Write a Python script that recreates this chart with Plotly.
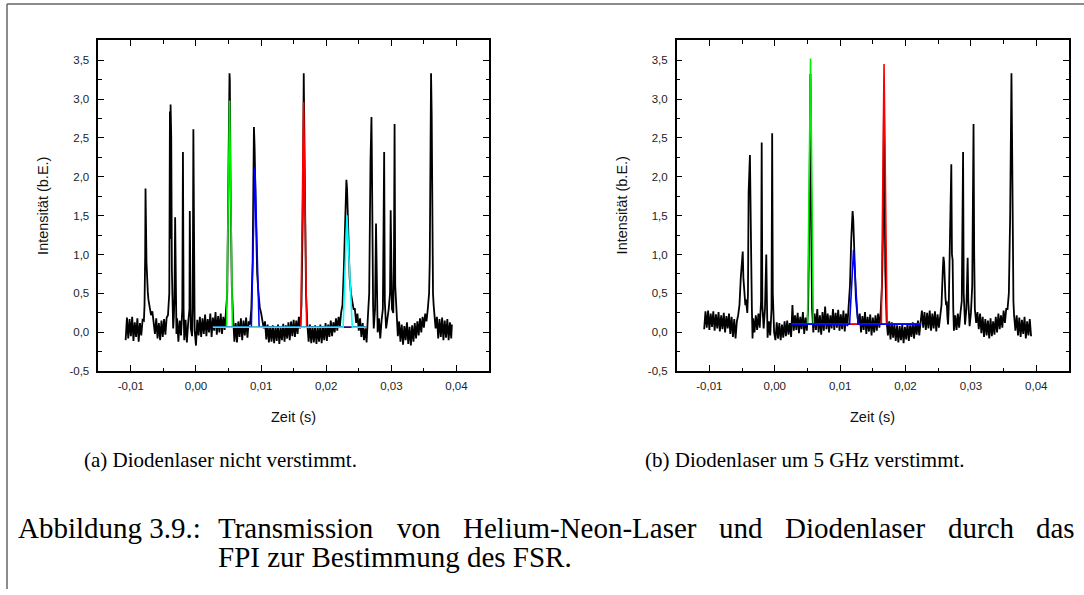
import plotly.graph_objects as go

W, H = 1084, 595

# ---------------- data: panel (a) - diode laser not detuned ----------------
scan_a = [
    (-0.0108, -0.10), (-0.0106, 0.19), (-0.0104, -0.08), (-0.0102, 0.17), (-0.0100, -0.05), (-0.0098, 0.20),
    (-0.0096, -0.11), (-0.0094, 0.13), (-0.0092, -0.06), (-0.0090, 0.18), (-0.0088, -0.12), (-0.0086, 0.12),
    (-0.0084, -0.04), (-0.0082, 0.16), (-0.0080, 0.15),
    (-0.0079, 0.35), (-0.0078, 1.00), (-0.00775, 1.85), (-0.0077, 1.55), (-0.0076, 0.90), (-0.0075, 0.56),
    (-0.0074, 0.52), (-0.0073, 0.42), (-0.0071, 0.33), (-0.0069, 0.22), (-0.0067, 0.27), (-0.0065, 0.14),
    (-0.0063, -0.02), (-0.0061, 0.18), (-0.0059, -0.08), (-0.0057, 0.12), (-0.0055, -0.10), (-0.0053, 0.15),
    (-0.0051, -0.06), (-0.0049, 0.17), (-0.0047, -0.03), (-0.0045, 0.19), (-0.0043, 0.22), (-0.0041, 0.50),
    (-0.0040, 2.84), (-0.00395, 1.20), (-0.0039, 2.93), (-0.0038, 2.52), (-0.0037, 0.80), (-0.0036, 0.35),
    (-0.0035, 0.05), (-0.0034, 0.20), (-0.0033, 0.45), (-0.0032, 1.48), (-0.0031, 0.40), (-0.0030, -0.02),
    (-0.0029, 0.18), (-0.0027, -0.12), (-0.0025, 0.15), (-0.0023, -0.04), (-0.0021, 0.30), (-0.0020, 2.32),
    (-0.0019, 0.30), (-0.0018, -0.10), (-0.0016, 0.16), (-0.0014, -0.13), (-0.0012, 0.12), (-0.0010, 0.30),
    (-0.00095, 1.56), (-0.0009, 0.50), (-0.0008, 0.05), (-0.0006, -0.05), (-0.0005, 0.30), (-0.0004, 2.61),
    (-0.0003, 0.60), (-0.0002, 0.02), (0.0000, -0.17), (0.0002, 0.16), (0.0004, -0.04), (0.0006, 0.20),
    (0.0008, -0.06), (0.0010, 0.18), (0.0012, -0.02), (0.0014, 0.23), (0.0016, -0.05), (0.0018, 0.17),
    (0.0020, 0.00), (0.0022, 0.24), (0.0024, -0.06), (0.0026, 0.19), (0.0028, 0.02), (0.0030, 0.26),
    (0.0032, -0.03), (0.0034, 0.21), (0.0036, 0.00), (0.0038, 0.24), (0.0040, -0.02), (0.0042, 0.20),
    (0.0044, 0.03), (0.0046, 0.25),
    (0.0048, 0.50), (0.0050, 2.20), (0.00515, 3.33), (0.0052, 3.24), (0.0053, 2.00), (0.0055, 0.60),
    (0.0057, 0.20), (0.0059, -0.12), (0.0061, 0.12), (0.0063, -0.13), (0.0065, 0.14), (0.0067, -0.06),
    (0.0069, 0.18), (0.0071, -0.10), (0.0073, 0.15), (0.0075, -0.04), (0.0077, 0.19), (0.0079, -0.07),
    (0.0081, 0.14), (0.0083, 0.10), (0.0085, 0.30),
    (0.0087, 0.90), (0.0089, 2.64), (0.0090, 2.40), (0.0092, 1.50), (0.0094, 0.75), (0.0096, 0.50),
    (0.0098, 0.32), (0.0100, 0.25), (0.0102, 0.16), (0.0104, 0.05), (0.0106, 0.14), (0.0108, -0.09),
    (0.0110, 0.10), (0.0112, -0.13), (0.0114, 0.08), (0.0116, -0.12), (0.0118, 0.09), (0.0120, -0.14),
    (0.0122, 0.07), (0.0124, -0.11), (0.0126, 0.10), (0.0128, -0.15), (0.0130, 0.06), (0.0132, -0.10),
    (0.0134, 0.11), (0.0136, -0.12), (0.0138, 0.09), (0.0140, -0.08), (0.0142, 0.13), (0.0144, -0.10),
    (0.0146, 0.14), (0.0148, -0.05), (0.0150, 0.16), (0.0152, -0.06), (0.0154, 0.15), (0.0156, -0.02),
    (0.0158, 0.20), (0.0160, 0.05), (0.0162, 0.35),
    (0.0164, 1.50), (0.01655, 3.33), (0.0167, 2.20), (0.0169, 0.50), (0.0171, 0.10), (0.0173, -0.12),
    (0.0175, 0.10), (0.0177, -0.14), (0.0179, 0.08), (0.0181, -0.13), (0.0183, 0.09), (0.0185, -0.15),
    (0.0187, 0.06), (0.0189, -0.12), (0.0191, 0.10), (0.0193, -0.14), (0.0195, 0.07), (0.0197, -0.10),
    (0.0199, 0.12), (0.0201, -0.11), (0.0203, 0.10), (0.0205, -0.06), (0.0207, 0.15), (0.0209, -0.05),
    (0.0211, 0.13), (0.0213, 0.00), (0.0215, 0.18), (0.0217, 0.02), (0.0219, 0.20), (0.0221, 0.08),
    (0.0223, 0.26), (0.0225, 0.35),
    (0.0227, 0.80), (0.0229, 1.50), (0.0231, 1.96), (0.0232, 1.85), (0.0234, 1.10), (0.0236, 0.70),
    (0.0238, 0.50), (0.0240, 0.40), (0.0242, 0.30), (0.0244, 0.30), (0.0246, 0.12), (0.0248, 0.24),
    (0.0250, 0.02), (0.0252, 0.18), (0.0254, -0.06), (0.0256, 0.12), (0.0258, -0.10), (0.0260, 0.05),
    (0.0262, -0.13), (0.0264, 0.20), (0.0266, 0.50),
    (0.0268, 2.20), (0.02695, 2.77), (0.0270, 2.37), (0.0271, 1.00), (0.0272, 0.35), (0.0273, 0.05),
    (0.0275, 0.30), (0.02765, 1.40), (0.0278, 0.35), (0.0279, 0.00), (0.0281, 0.18), (0.0283, -0.08),
    (0.0285, 0.15), (0.0287, 0.30), (0.0289, 2.32), (0.0290, 0.40), (0.0292, 0.05), (0.0294, 0.15),
    (0.0296, 0.30), (0.0298, 0.50), (0.0299, 1.57), (0.0301, 0.30), (0.0303, 0.25), (0.0304, 0.90),
    (0.0305, 2.68), (0.0306, 0.60), (0.0308, 0.16), (0.0310, -0.05),
    (0.0312, 0.14), (0.0314, -0.12), (0.0316, 0.10), (0.0318, -0.16), (0.0320, 0.08), (0.0322, -0.10),
    (0.0324, 0.13), (0.0326, -0.15), (0.0328, 0.07), (0.0330, -0.17), (0.0332, 0.09), (0.0334, -0.12),
    (0.0336, 0.12), (0.0338, -0.08), (0.0340, 0.14), (0.0342, -0.04), (0.0344, 0.18), (0.0346, 0.00),
    (0.0348, 0.20), (0.0350, 0.06), (0.0352, 0.24), (0.0354, 0.14), (0.0356, 0.30), (0.0358, 0.50),
    (0.0359, 0.90), (0.0360, 2.50), (0.0361, 3.33), (0.0362, 2.80), (0.0363, 1.00), (0.0364, 0.50),
    (0.0365, 0.35), (0.0366, 0.22), (0.0368, 0.05), (0.0370, 0.20), (0.0372, -0.08), (0.0374, 0.17),
    (0.0376, -0.06), (0.0378, 0.19), (0.0380, -0.10), (0.0382, 0.15), (0.0384, -0.07), (0.0386, 0.17),
    (0.0388, -0.10), (0.0390, 0.13), (0.0392, -0.08), (0.0393, 0.10),
]

# fitted peaks, panel (a)
green_t_a = [0.0026, 0.0047, 0.00516, 0.0056, 0.0261]
green_y_a = [0.065, 0.065, 2.98, 0.065, 0.065]
red_t_a = [0.0026, 0.0161, 0.01653, 0.0170, 0.0261]
red_y_a = [0.065, 0.065, 2.96, 0.065, 0.065]
blue_t_a = [0.0026, 0.0085, 0.00905, 0.0097, 0.0261]
blue_y_a = [0.065, 0.065, 2.13, 0.065, 0.065]
cyan_t_a = [0.0026, 0.0226, 0.02318, 0.0240, 0.0261]
cyan_y_a = [0.065, 0.065, 1.505, 0.065, 0.065]

# ---------------- data: panel (b) - diode laser detuned by 5 GHz ----------------
scan_b = [
    (-0.0108, 0.04), (-0.0106, 0.27), (-0.0104, 0.06), (-0.0102, 0.28), (-0.0100, 0.03), (-0.0098, 0.24),
    (-0.0096, 0.07), (-0.0094, 0.27), (-0.0092, 0.02), (-0.0090, 0.23), (-0.0088, 0.05), (-0.0086, 0.26),
    (-0.0084, 0.01), (-0.0082, 0.22), (-0.0080, 0.04), (-0.0078, 0.25), (-0.0076, 0.00), (-0.0074, 0.21),
    (-0.0072, 0.05), (-0.0070, 0.24), (-0.0068, -0.02), (-0.0066, 0.20), (-0.0064, -0.06), (-0.0062, 0.17),
    (-0.0060, -0.08), (-0.0058, 0.14), (-0.0056, 0.22), (-0.0054, 0.35), (-0.0052, 0.70), (-0.0050, 0.97),
    (-0.0049, 1.04), (-0.0048, 0.70), (-0.0047, 0.55), (-0.0046, 0.45), (-0.0045, 0.35), (-0.0044, 0.42),
    (-0.0043, 0.30), (-0.0042, 0.25), (-0.0041, 0.50), (-0.0040, 1.80), (-0.0038, 2.28), (-0.0037, 1.20),
    (-0.0036, 0.92), (-0.0035, 0.30), (-0.0034, -0.08), (-0.0033, 0.18), (-0.0031, 0.00), (-0.0029, 0.22),
    (-0.0027, 0.03), (-0.0025, 0.24), (-0.0023, 0.06), (-0.0021, 0.40), (-0.0020, 2.44), (-0.0019, 0.35),
    (-0.0017, 0.05), (-0.0015, 0.30), (-0.0013, 1.00), (-0.0012, 0.40), (-0.0011, -0.07), (-0.0009, 0.14),
    (-0.0007, -0.04), (-0.0005, 0.30), (-0.0004, 2.56), (-0.0003, 0.50), (-0.0001, 0.00), (0.0001, -0.10),
    (0.0003, 0.13), (0.0005, -0.08), (0.0007, 0.12), (0.0009, -0.10), (0.0011, 0.10), (0.0013, -0.07),
    (0.0015, 0.14), (0.0017, -0.05), (0.0019, 0.15), (0.0021, -0.03), (0.0023, 0.12), (0.0025, -0.06),
    (0.0027, 0.35), (0.0029, 0.02), (0.0031, 0.22), (0.0033, 0.03), (0.0035, 0.25), (0.0037, -0.01),
    (0.0039, 0.20), (0.0041, 0.04), (0.0043, 0.26), (0.0045, -0.02), (0.0047, 0.19), (0.0049, 0.02),
    (0.0051, 0.30), (0.0053, 1.50), (0.00545, 3.32), (0.0055, 3.00), (0.0056, 1.20), (0.0057, 0.30),
    (0.0059, 0.00), (0.0061, 0.24), (0.0063, 0.03), (0.0065, 0.30), (0.0067, 0.00), (0.0069, 0.22),
    (0.0071, -0.03), (0.0073, 0.26), (0.0075, 0.02), (0.0077, 0.33), (0.0079, 0.04), (0.0081, 0.24),
    (0.0083, 0.00), (0.0085, 0.22), (0.0087, 0.05), (0.0089, 0.30), (0.0091, 0.03), (0.0093, 0.25),
    (0.0095, 0.06), (0.0097, 0.29), (0.0099, 0.02), (0.0101, 0.23), (0.0103, 0.04), (0.0105, 0.28),
    (0.0107, 0.01), (0.0109, 0.24), (0.0111, 0.08), (0.0113, 0.30), (0.0115, 0.60), (0.0117, 1.20),
    (0.0119, 1.56), (0.0120, 1.45), (0.0122, 0.90), (0.0124, 0.45), (0.0126, 0.25), (0.0128, 0.10),
    (0.0130, 0.24), (0.0132, 0.00), (0.0134, 0.21), (0.0136, 0.03), (0.0138, 0.26), (0.0140, -0.02),
    (0.0142, 0.20), (0.0144, 0.01), (0.0146, 0.23), (0.0148, -0.04), (0.0150, 0.19), (0.0152, 0.00),
    (0.0154, 0.22), (0.0156, 0.02), (0.0158, 0.24), (0.0160, 0.06), (0.0162, 0.27), (0.0164, 0.60),
    (0.0166, 1.50), (0.0167, 3.00), (0.0168, 1.93), (0.0169, 0.80), (0.0171, 0.15), (0.0173, -0.04),
    (0.0175, 0.14), (0.0177, -0.09), (0.0179, 0.13), (0.0181, -0.07), (0.0183, 0.11), (0.0185, -0.11),
    (0.0187, 0.09), (0.0189, -0.13), (0.0191, 0.08), (0.0193, -0.10), (0.0195, 0.10), (0.0197, -0.14),
    (0.0199, 0.07), (0.0201, -0.09), (0.0203, 0.12), (0.0205, -0.11), (0.0207, 0.09), (0.0209, -0.06),
    (0.0211, 0.13), (0.0213, -0.08), (0.0215, 0.12), (0.0217, -0.03), (0.0219, 0.15), (0.0221, -0.04),
    (0.0223, 0.13), (0.0225, 0.28), (0.0227, 0.06), (0.0229, 0.26), (0.0231, 0.03), (0.0233, 0.25),
    (0.0235, 0.05), (0.0237, 0.28), (0.0239, 0.02), (0.0241, 0.24), (0.0243, 0.05), (0.0245, 0.27),
    (0.0247, 0.01), (0.0249, 0.23), (0.0251, 0.06), (0.0253, 0.25), (0.0255, 0.35), (0.0257, 0.80),
    (0.0258, 0.97), (0.0259, 0.90), (0.0260, 0.60), (0.0261, 0.45), (0.0262, 0.35), (0.0263, 0.40),
    (0.0264, 0.20), (0.0265, 0.10), (0.0266, 0.30), (0.0268, 1.20), (0.0270, 2.16), (0.0271, 1.00),
    (0.0272, 0.93), (0.0273, 0.30), (0.0274, 0.02), (0.0276, 0.22), (0.0278, 0.03), (0.0280, 0.24),
    (0.0282, 0.06), (0.0284, 0.25), (0.0286, 0.40), (0.0288, 2.32), (0.0289, 0.50), (0.0291, 0.10),
    (0.0293, 0.30), (0.0295, 0.96), (0.0296, 0.40), (0.0298, 0.08), (0.0300, 0.25), (0.0302, 0.60),
    (0.0304, 2.68), (0.0305, 1.00), (0.0306, 0.30), (0.0308, 0.12), (0.0310, 0.26), (0.0312, 0.04),
    (0.0314, 0.24), (0.0316, -0.01), (0.0318, 0.20), (0.0320, -0.06), (0.0322, 0.17), (0.0324, -0.04),
    (0.0326, 0.15), (0.0328, -0.08), (0.0330, 0.18), (0.0332, -0.05), (0.0334, 0.14), (0.0336, -0.03),
    (0.0338, 0.20), (0.0340, 0.00), (0.0342, 0.24), (0.0344, 0.04), (0.0346, 0.22), (0.0348, 0.06),
    (0.0350, 0.28), (0.0352, 0.12), (0.0354, 0.30), (0.0356, 0.30), (0.0358, 0.50), (0.0360, 1.50),
    (0.0362, 3.33), (0.0363, 2.40), (0.0364, 0.90), (0.0365, 0.40), (0.0366, 0.22), (0.0368, 0.02),
    (0.0370, 0.22), (0.0372, -0.04), (0.0374, 0.19), (0.0376, -0.06), (0.0378, 0.16), (0.0380, -0.02),
    (0.0382, 0.20), (0.0384, -0.08), (0.0386, 0.14), (0.0388, -0.04), (0.0390, 0.17), (0.0392, -0.05),
]

# fitted peaks, panel (b)
green_t_b = [0.00262, 0.0050, 0.00547, 0.0059, 0.02238]
green_y_b = [0.106, 0.106, 3.52, 0.106, 0.106]
red_t_b = [0.00262, 0.0163, 0.01671, 0.01717, 0.02238]
red_y_b = [0.106, 0.106, 3.45, 0.106, 0.106]
blue_t_b = [0.00262, 0.01144, 0.01205, 0.01273, 0.02238]
blue_y_b = [0.106, 0.106, 1.06, 0.106, 0.106]

# axis ticks
x_ticks = [-0.01, 0.0, 0.01, 0.02, 0.03, 0.04]
x_ticklabels = ["-0,01", "0,00", "0,01", "0,02", "0,03", "0,04"]
x_minor = [-0.005, 0.005, 0.015, 0.025, 0.035]
y_ticks = [-0.5, 0.0, 0.5, 1.0, 1.5, 2.0, 2.5, 3.0, 3.5]
y_ticklabels = ["-0,5", "0,0", "0,5", "1,0", "1,5", "2,0", "2,5", "3,0", "3,5"]
y_minor = [-0.25, 0.25, 0.75, 1.25, 1.75, 2.25, 2.75, 3.25]

sub_captions = ["(a) Diodenlaser nicht verstimmt.", "(b) Diodenlaser um 5 GHz verstimmt."]
caption_label = "Abbildung 3.9.:"
caption_line1 = ["Transmission", "von", "Helium-Neon-Laser", "und", "Diodenlaser", "durch", "das"]
caption_line2 = "FPI zur Bestimmung des FSR."

# ---------------- figure ----------------
fig = go.Figure()

time_a = [p[0] for p in scan_a]
int_a = [p[1] for p in scan_a]
time_b = [p[0] for p in scan_b]
int_b = [p[1] for p in scan_b]

LW = 1.8
FW = 1.6
fig.add_trace(go.Scatter(x=time_a, y=int_a, mode="lines", line=dict(color="black", width=LW),
                         xaxis="x", yaxis="y", showlegend=False))
for t, y, c in [(green_t_a, green_y_a, "#00ee00"), (red_t_a, red_y_a, "#ff0000"),
                (blue_t_a, blue_y_a, "#0000ff"), (cyan_t_a, cyan_y_a, "#00ffff")]:
    fig.add_trace(go.Scatter(x=t, y=y, mode="lines", line=dict(color=c, width=FW),
                             xaxis="x", yaxis="y", showlegend=False))

fig.add_trace(go.Scatter(x=time_b, y=int_b, mode="lines", line=dict(color="black", width=LW),
                         xaxis="x2", yaxis="y2", showlegend=False))
for t, y, c in [(green_t_b, green_y_b, "#00ee00"), (red_t_b, red_y_b, "#ff0000"),
                (blue_t_b, blue_y_b, "#0000ff")]:
    fig.add_trace(go.Scatter(x=t, y=y, mode="lines", line=dict(color=c, width=FW),
                             xaxis="x2", yaxis="y2", showlegend=False))

tickfont = dict(family="Liberation Sans, Arial, sans-serif", size=11.5, color="#222222")
common = dict(showline=True, linecolor="black", linewidth=1.5, mirror="allticks",
              ticks="inside", ticklen=6, tickwidth=1.2, tickcolor="black",
              showgrid=False, zeroline=False, tickfont=tickfont)

def xaxis_cfg(domain, anchor):
    return dict(common, domain=domain, anchor=anchor, range=[-0.015, 0.045],
                tickmode="array", tickvals=x_ticks, ticktext=x_ticklabels, ticklabelstandoff=3,
                minor=dict(tickmode="array", tickvals=x_minor, ticks="inside", ticklen=3.5,
                           tickwidth=1.2, tickcolor="black"))

def yaxis_cfg(domain, anchor):
    return dict(common, domain=domain, anchor=anchor, range=[-0.5, 3.755],
                tickmode="array", tickvals=y_ticks, ticktext=y_ticklabels, ticklabelstandoff=5,
                minor=dict(tickmode="array", tickvals=y_minor, ticks="inside", ticklen=3.5,
                           tickwidth=1.2, tickcolor="black"))

ydom = [1 - 375 / H, 1 - 40.7 / H]
fig.update_layout(
    width=W, height=H, margin=dict(l=0, r=0, t=0, b=0),
    paper_bgcolor="white", plot_bgcolor="white",
    xaxis=xaxis_cfg([98.3 / W, 489 / W], "y"),
    yaxis=yaxis_cfg(ydom, "x"),
    xaxis2=xaxis_cfg([676.7 / W, 1069 / W], "y2"),
    yaxis2=yaxis_cfg(ydom, "x2"),
)

ann = []
title_font = dict(family="Liberation Sans, Arial, sans-serif", size=14.5, color="#111111")
for cx in [293.6, 872.8]:
    ann.append(dict(text="Zeit (s)", x=cx / W, y=1 - 421.5 / H, xref="paper", yref="paper",
                    showarrow=False, xanchor="center", yanchor="middle", font=title_font))
for cx in [43, 621.5]:
    ann.append(dict(text="Intensität (b.E.)", x=cx / W, y=1 - 208 / H, xref="paper", yref="paper",
                    showarrow=False, xanchor="center", yanchor="middle", textangle=-90, font=title_font))

# captions (serif, justified first line with hanging indent)
TIMES = {' ': 250, 'A': 722, 'B': 667, 'D': 722, 'F': 556, 'G': 722, 'H': 722, 'I': 333, 'L': 611,
         'N': 722, 'P': 556, 'R': 667, 'S': 556, 'T': 611, 'Z': 611, 'a': 444, 'b': 500, 'c': 444,
         'd': 500, 'e': 444, 'g': 500, 'h': 500, 'i': 278, 'l': 278, 'm': 778, 'n': 500, 'o': 500,
         'r': 333, 's': 389, 't': 278, 'u': 500, 'v': 500, 'z': 444, '.': 250, ':': 278, '-': 333,
         '3': 500, '5': 500, '9': 500, '(': 333, ')': 333}

def text_w(s, size):
    return sum(TIMES.get(ch, 500) for ch in s) * size / 1000.0

serif = "Liberation Serif, Times New Roman, serif"
SUB = 21
for txt, cx in zip(sub_captions, [220, 805]):
    ann.append(dict(text=txt, x=cx / W, y=1 - 465 / H, xref="paper", yref="paper", showarrow=False,
                    xanchor="center", yanchor="middle", font=dict(family=serif, size=SUB, color="black")))

CAP = 29
x_left, x_right = 16, 1073
indent = 216
y1, y2 = 533, 563
ann.append(dict(text=caption_label, x=x_left / W, y=1 - y1 / H, xref="paper", yref="paper",
                showarrow=False, xanchor="left", yanchor="middle",
                font=dict(family=serif, size=CAP, color="black")))
words_w = sum(text_w(w, CAP) for w in caption_line1)
gap = (x_right - indent - words_w) / (len(caption_line1) - 1)
xpos = indent
for w in caption_line1:
    ann.append(dict(text=w, x=xpos / W, y=1 - y1 / H, xref="paper", yref="paper", showarrow=False,
                    xanchor="left", yanchor="middle", font=dict(family=serif, size=CAP, color="black")))
    xpos += text_w(w, CAP) + gap
ann.append(dict(text=caption_line2, x=indent / W, y=1 - y2 / H, xref="paper", yref="paper",
                showarrow=False, xanchor="left", yanchor="middle",
                font=dict(family=serif, size=CAP, color="black")))

fig.update_layout(annotations=ann)

# frame of the figure box (top and left edges visible)
fig.add_shape(type="line", xref="paper", yref="paper", x0=7 / W, x1=1.0, y0=1 - 4 / H, y1=1 - 4 / H,
              line=dict(color="#666666", width=1.5))
fig.add_shape(type="line", xref="paper", yref="paper", x0=7 / W, x1=7 / W, y0=0.0, y1=1 - 4 / H,
              line=dict(color="#666666", width=1.5))

fig.write_html("out.html")
